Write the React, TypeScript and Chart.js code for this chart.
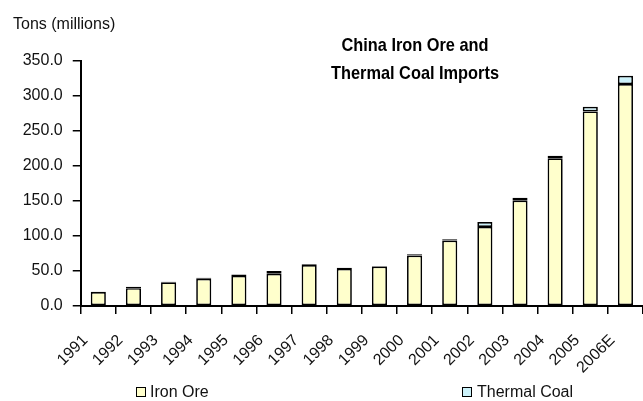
import React, { useEffect, useRef } from "react";
import { Chart, registerables } from "chart.js";

Chart.register(...registerables);

const years = ["1991", "1992", "1993", "1994", "1995", "1996", "1997", "1998", "1999", "2000", "2001", "2002", "2003", "2004", "2005", "2006E"];
const ironOre = [20, 25.5, 34, 39, 43, 46, 58.5, 53, 56.5, 72, 93.5, 113, 150.5, 211, 278, 317];
const thermalCoal = [0.5, 2, 0.5, 1.5, 2, 4, 1, 1.5, 0.5, 2, 2, 7, 4, 3.5, 6.5, 12];
const yMin = 0;
const yMax = 350;
const yStep = 50;
const seriesNames = ["Iron Ore", "Thermal Coal"];
const titleLines = ["China Iron Ore and", "Thermal Coal Imports"];
const yUnit = "Tons (millions)";

const IRON = "#FFFFCC";
const COAL = "#CCF2FA";
const FONT = "'Liberation Sans', Arial, sans-serif";

export default function App() {
  const ref = useRef<HTMLCanvasElement | null>(null);
  useEffect(() => {
    if (!ref.current) return;
    const chart = new Chart(ref.current, {
      type: "bar",
      data: {
        labels: years,
        datasets: [
          {
            label: seriesNames[0],
            data: ironOre,
            backgroundColor: IRON,
            borderColor: "#000",
            borderWidth: 1.7,
            borderSkipped: false,
            barPercentage: 0.43,
            categoryPercentage: 1,
          },
          {
            label: seriesNames[1],
            data: thermalCoal,
            backgroundColor: COAL,
            borderColor: "#000",
            borderWidth: 1.7,
            borderSkipped: false,
            barPercentage: 0.43,
            categoryPercentage: 1,
          },
        ],
      },
      options: {
        animation: false,
        responsive: true,
        maintainAspectRatio: false,
        layout: { padding: { left: 12.7, top: 61, right: 0, bottom: 0 } },
        plugins: {
          legend: { display: false },
          title: { display: false },
          tooltip: { enabled: false },
        },
        scales: {
          x: {
            stacked: true,
            afterFit: (s: any) => {
              s.paddingLeft = 0;
              s.paddingRight = 0;
              s.height = 95;
            },
            grid: {
              display: true,
              drawOnChartArea: false,
              drawTicks: true,
              tickLength: 8,
              color: "#000",
              lineWidth: 1.5,
              offset: true,
            },
            border: { display: true, color: "#000", width: 2 },
            ticks: {
              color: "#111",
              font: { family: FONT, size: 16 },
              minRotation: 45,
              maxRotation: 45,
              autoSkip: false,
              padding: 17,
              labelOffset: -13,
            },
          },
          y: {
            stacked: true,
            min: yMin,
            max: yMax,
            grid: {
              display: true,
              drawOnChartArea: false,
              drawTicks: true,
              tickLength: 8,
              color: "#000",
              lineWidth: 1.5,
            },
            border: { display: true, color: "#000", width: 2 },
            ticks: {
              stepSize: yStep,
              color: "#111",
              font: { family: FONT, size: 16 },
              padding: 10,
              callback: (v: any) => Number(v).toFixed(1),
            },
          },
        },
      },
    });
    return () => chart.destroy();
  }, []);

  const box = (color: string): React.CSSProperties => ({
    position: "absolute",
    width: 8,
    height: 8,
    border: "1px solid #000",
    background: color,
    top: 387,
  });

  return (
    <div style={{ position: "absolute", left: 0, top: 0, width: 643, height: 401, background: "#fff", fontFamily: FONT, color: "#111" }}>
      <canvas ref={ref} />
      <div style={{ position: "absolute", left: 13, top: 16, fontSize: 16, lineHeight: "16px", whiteSpace: "nowrap" }}>{yUnit}</div>
      <div
        style={{
          position: "absolute",
          left: 265,
          width: 300,
          top: 31,
          textAlign: "center",
          fontFamily: FONT,
          fontWeight: "bold",
          fontSize: 19,
          lineHeight: "28px",
          color: "#000",
          transform: "scaleX(0.86)",
          transformOrigin: "50% 0",
          whiteSpace: "nowrap",
        }}
      >
        <div>{titleLines[0]}</div>
        <div>{titleLines[1]}</div>
      </div>
      <div style={{ ...box(IRON), left: 136 }} />
      <div style={{ position: "absolute", left: 150, top: 383, fontSize: 16, lineHeight: "18px", whiteSpace: "nowrap" }}>{seriesNames[0]}</div>
      <div style={{ ...box(COAL), left: 462 }} />
      <div style={{ position: "absolute", left: 477, top: 383, fontSize: 16, lineHeight: "18px", whiteSpace: "nowrap" }}>{seriesNames[1]}</div>
    </div>
  );
}
